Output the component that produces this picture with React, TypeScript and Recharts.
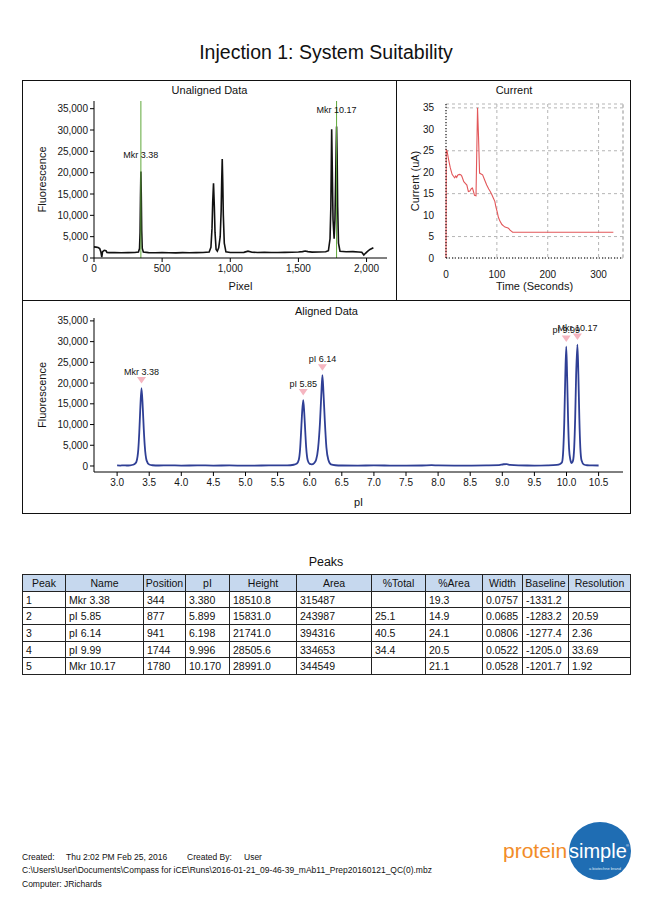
import React from 'react';
import {
  LineChart,
  ComposedChart,
  Line,
  XAxis,
  YAxis,
  CartesianGrid,
  ReferenceLine,
  ReferenceDot,
} from 'recharts';

const FONT = '"Liberation Sans", Arial, Helvetica, sans-serif';

// ---- Unaligned Data (pixel vs fluorescence) ----
const unalignedTrace: [number, number][] = [
  [0, 2600], [15, 2550], [30, 2450], [42, 2200], [50, 1500], [57, 200], [63, 1500],
  [75, 1800], [88, 1700], [95, 1300], [110, 1250], [150, 1280], [200, 1230], [250, 1260],
  [300, 1290], [326, 1400], [334, 2200], [338, 6000], [341, 14000], [344, 20300],
  [347, 14500], [350, 6500], [354, 2300], [362, 1400], [400, 1250], [450, 1220],
  [500, 1260], [550, 1240], [600, 1210], [650, 1250], [700, 1230], [750, 1260],
  [800, 1280], [845, 1400], [858, 2500], [866, 7000], [871, 13000], [877, 17500],
  [883, 12000], [888, 6000], [896, 2000], [905, 1600], [915, 2400], [926, 5000],
  [933, 11000], [937, 18000], [941, 23200], [945, 17500], [949, 10000], [956, 3500],
  [968, 1450], [1000, 1280], [1050, 1300], [1100, 1320], [1130, 1600], [1160, 1350],
  [1200, 1300], [1250, 1320], [1300, 1280], [1350, 1300], [1400, 1330], [1450, 1350],
  [1500, 1400], [1530, 1500], [1550, 1650], [1570, 1500], [1600, 1380], [1650, 1400],
  [1700, 1450], [1720, 1700], [1732, 4500], [1738, 12000], [1741, 21000], [1744, 30200],
  [1748, 22000], [1754, 9000], [1762, 4500], [1768, 9000], [1773, 18000], [1777, 26000],
  [1780, 30800], [1784, 24000], [1788, 12000], [1794, 3500], [1805, 1600], [1850, 1450],
  [1900, 1500], [1940, 1400], [1965, 1350], [1980, 700], [1992, 1100], [2005, 1500],
  [2025, 2000], [2050, 2400],
];
const markerPixels = [344, 1780];
const markerPeakHeights = [20300, 30800];
const markerNames = ['Mkr 3.38', 'Mkr 10.17'];
const fluorTicks = [0, 5000, 10000, 15000, 20000, 25000, 30000, 35000];
const pixelTicks = [0, 500, 1000, 1500, 2000];

// ---- Current (time in s vs uA) ----
const currentTrace: [number, number][] = [
  [0, 0], [0.5, 25.2], [2, 25], [5, 23], [8.5, 21], [12, 19.5], [15, 19], [17, 18.7],
  [19, 19.1], [21, 18.8], [23, 19.3], [26, 19.5], [29, 19.4], [31, 19.1], [35, 17.8],
  [38, 17.4], [41, 17], [44, 15.5], [47, 15.6], [50, 16.2], [52, 16.3], [54, 15.5],
  [56, 14.6], [59, 14.5], [62, 35], [64, 28], [66, 19.8], [69, 19.6], [72, 19.4],
  [76, 18.2], [80, 17], [84, 16.1], [87, 15.5], [90, 14.8], [93, 14], [96, 13.2],
  [98, 12], [101, 10.6], [103, 9.5], [106, 8.6], [110, 7.8], [113, 7.5], [116, 7.2],
  [119, 7.1], [122, 7], [124, 6.8], [126, 6.5], [129, 6.2], [131, 6], [180, 6],
  [250, 6], [329, 6],
];
const currentTicks = [0, 5, 10, 15, 20, 25, 30, 35];
const timeTicks = [0, 100, 200, 300];

// ---- Aligned Data (pI vs fluorescence) ----
const alignedTrace: [number, number][] = [
  [3.0, 130], [3.05, 110], [3.1, 150], [3.15, 120], [3.2, 160], [3.25, 300], [3.28, 600],
  [3.3, 1000], [3.33, 4000], [3.345, 8000], [3.36, 13500], [3.38, 18800], [3.4, 14000],
  [3.415, 9000], [3.43, 5000], [3.46, 1300], [3.5, 350], [3.55, 180], [3.65, 120],
  [3.8, 150], [4.0, 100], [4.25, 140], [4.5, 110], [4.75, 130], [5.0, 90], [5.25, 120],
  [5.5, 140], [5.65, 160], [5.75, 300], [5.8, 600], [5.83, 1500], [5.85, 4000],
  [5.865, 8000], [5.88, 12500], [5.899, 15900], [5.915, 12800], [5.93, 8500],
  [5.945, 4500], [5.97, 1300], [6.0, 500], [6.03, 400], [6.07, 700], [6.1, 1500],
  [6.13, 4200], [6.16, 10500], [6.18, 17000], [6.198, 21900], [6.215, 17500],
  [6.235, 11000], [6.26, 4500], [6.29, 1500], [6.33, 400], [6.4, 180], [6.5, 120],
  [6.75, 100], [7.0, 130], [7.25, 110], [7.5, 90], [7.75, 120], [7.9, 200], [8.0, 130],
  [8.25, 100], [8.5, 110], [8.75, 140], [8.95, 200], [9.02, 420], [9.07, 450],
  [9.12, 250], [9.25, 130], [9.5, 110], [9.7, 150], [9.85, 250], [9.9, 500], [9.93, 900],
  [9.95, 4000], [9.965, 10500], [9.98, 21000], [9.996, 28800], [10.01, 21500],
  [10.025, 11000], [10.04, 4200], [10.06, 1500], [10.08, 700], [10.1, 1200],
  [10.12, 4500], [10.135, 11500], [10.15, 22000], [10.17, 29300], [10.185, 22000],
  [10.2, 11500], [10.215, 4500], [10.235, 1300], [10.27, 350], [10.32, 180],
  [10.4, 130], [10.5, 120],
];
const peakNames = ['Mkr 3.38', 'pI 5.85', 'pI 6.14', 'pI 9.99', 'Mkr 10.17'];
const peakPI = [3.38, 5.899, 6.198, 9.996, 10.17];
const peakTops = [18800, 15900, 21900, 28800, 29300];
const piTicks = [3.0, 3.5, 4.0, 4.5, 5.0, 5.5, 6.0, 6.5, 7.0, 7.5, 8.0, 8.5, 9.0, 9.5, 10.0, 10.5];

// ---- Peaks table ----
const tableHeaders = ['Peak', 'Name', 'Position', 'pI', 'Height', 'Area', '%Total', '%Area', 'Width', 'Baseline', 'Resolution'];
const colPeak = ['1', '2', '3', '4', '5'];
const colName = ['Mkr 3.38', 'pI 5.85', 'pI 6.14', 'pI 9.99', 'Mkr 10.17'];
const colPosition = ['344', '877', '941', '1744', '1780'];
const colPI = ['3.380', '5.899', '6.198', '9.996', '10.170'];
const colHeight = ['18510.8', '15831.0', '21741.0', '28505.6', '28991.0'];
const colArea = ['315487', '243987', '394316', '334653', '344549'];
const colTotal = ['', '25.1', '40.5', '34.4', ''];
const colPctArea = ['19.3', '14.9', '24.1', '20.5', '21.1'];
const colWidth = ['0.0757', '0.0685', '0.0806', '0.0522', '0.0528'];
const colBaseline = ['-1331.2', '-1283.2', '-1277.4', '-1205.0', '-1201.7'];
const colResolution = ['', '20.59', '2.36', '33.69', '1.92'];
const colWidthsPx = [43, 78, 42, 44, 67, 75, 54, 57, 40, 46, 62];

const toXY = (pts: [number, number][]) => pts.map(([x, y]) => ({ x, y }));
const comma = (v: number) => v.toLocaleString('en-US');

const tickStyle = { fontSize: 10, fill: '#151515', fontFamily: FONT };
const axisLabel = { fontSize: 11, fill: '#151515', fontFamily: FONT };

// text placed by its baseline
const Txt = ({ x, y, size, children, align = 'left', w = 0, style = {} }: any) => (
  <div
    style={{
      position: 'absolute',
      left: align === 'center' ? x - w / 2 : x,
      width: align === 'center' ? w : undefined,
      top: y - size * 0.905,
      fontSize: size,
      lineHeight: 'normal',
      textAlign: align,
      whiteSpace: 'pre',
      ...style,
    }}
  >
    {children}
  </div>
);

const Triangle = (props: any) => {
  const { cx, cy } = props;
  return <path d={`M${cx - 4.5},${cy - 11} L${cx + 4.5},${cy - 11} L${cx},${cy - 4.5} Z`} fill="#f5b5c0" />;
};

const UnalignedChart = () => (
  <LineChart width={375} height={220} margin={{ top: 21, right: 10, bottom: 0, left: 0 }}>
    <XAxis
      type="number"
      dataKey="x"
      domain={[0, 2150]}
      ticks={pixelTicks}
      tickFormatter={comma}
      tick={tickStyle}
      tickSize={4}
      tickMargin={3}
      stroke="#000"
      height={42}
      label={{ value: 'Pixel', position: 'insideBottom', offset: 10, style: axisLabel }}
    />
    <YAxis
      type="number"
      dataKey="y"
      domain={[0, 36800]}
      ticks={fluorTicks}
      tickFormatter={comma}
      tick={tickStyle}
      tickSize={4}
      tickMargin={2}
      stroke="#000"
      width={72}
      label={{ value: 'Fluorescence', angle: -90, position: 'insideLeft', offset: 20, style: { ...axisLabel, textAnchor: 'middle' } }}
    />
    <Line data={toXY(unalignedTrace)} dataKey="y" type="linear" stroke="#111" strokeWidth={1.6} dot={false} isAnimationActive={false} />
    {markerPixels.map((p, i) => (
      <ReferenceLine key={'l' + i} x={p} stroke="#5fa83a" strokeWidth={1} />
    ))}
    {markerPixels.map((p, i) => (
      <ReferenceDot
        key={'d' + i}
        x={p}
        y={markerPeakHeights[i]}
        r={0}
        fill="none"
        stroke="none"
        label={{ value: markerNames[i], position: 'top', offset: 13.5, style: { fontSize: 9, fill: '#111', fontFamily: FONT } }}
      />
    ))}
  </LineChart>
);

const CurrentChart = () => (
  <LineChart width={234} height={220} margin={{ top: 24, right: 8, bottom: 0, left: 0 }}>
    <CartesianGrid stroke="#b5b5b5" strokeDasharray="3 3" />
    <XAxis
      type="number"
      dataKey="x"
      domain={[0, 348]}
      ticks={timeTicks}
      tick={tickStyle}
      tickLine={false}
      tickMargin={7}
      axisLine={{ stroke: '#000', strokeDasharray: '1 2' }}
      height={42}
      label={{ value: 'Time (Seconds)', position: 'insideBottom', offset: 10, style: axisLabel }}
    />
    <YAxis
      type="number"
      dataKey="y"
      domain={[0, 35.9]}
      ticks={currentTicks}
      tick={tickStyle}
      tickLine={false}
      tickMargin={6}
      axisLine={{ stroke: '#000', strokeDasharray: '1 2' }}
      width={49}
      label={{ value: 'Current (uA)', angle: -90, position: 'insideLeft', offset: 18, style: { ...axisLabel, textAnchor: 'middle' } }}
    />
    <ReferenceLine x={348} stroke="#b5b5b5" strokeDasharray="3 3" />
    <Line data={toXY(currentTrace)} dataKey="y" type="linear" stroke="#e2575a" strokeWidth={1.1} dot={false} isAnimationActive={false} />
  </LineChart>
);

const AlignedChart = () => (
  <ComposedChart width={609} height={214} margin={{ top: 18, right: 8, bottom: 0, left: 0 }}>
    <XAxis
      type="number"
      dataKey="x"
      domain={[2.64, 10.88]}
      ticks={piTicks}
      tickFormatter={(v: number) => v.toFixed(1)}
      tick={tickStyle}
      tickSize={4}
      tickMargin={3}
      stroke="#000"
      height={42}
      label={{ value: 'pI', position: 'insideBottom', offset: 8, style: axisLabel }}
    />
    <YAxis
      type="number"
      dataKey="y"
      domain={[-1450, 35700]}
      ticks={fluorTicks}
      tickFormatter={comma}
      tick={tickStyle}
      tickSize={4}
      tickMargin={2}
      stroke="#000"
      width={72}
      label={{ value: 'Fluorescence', angle: -90, position: 'insideLeft', offset: 20, style: { ...axisLabel, textAnchor: 'middle' } }}
    />
    <Line data={toXY(alignedTrace)} dataKey="y" type="monotone" stroke="#2f3f95" strokeWidth={1.8} dot={false} isAnimationActive={false} />
    {peakPI.map((p, i) => (
      <ReferenceDot
        key={i}
        x={p}
        y={peakTops[i]}
        r={0}
        shape={Triangle}
        label={{ value: peakNames[i], position: 'top', offset: 13.5, style: { fontSize: 9, fill: '#111', fontFamily: FONT } }}
      />
    ))}
  </ComposedChart>
);

const columns = [colPeak, colName, colPosition, colPI, colHeight, colArea, colTotal, colPctArea, colWidth, colBaseline, colResolution];

const PeaksTable = () => (
  <table
    style={{
      position: 'absolute',
      left: 22,
      top: 574,
      width: 608,
      borderCollapse: 'collapse',
      tableLayout: 'fixed',
      fontSize: 10.5,
      fontFamily: FONT,
      color: '#111',
    }}
  >
    <colgroup>
      {colWidthsPx.map((w, i) => (
        <col key={i} style={{ width: w }} />
      ))}
    </colgroup>
    <thead>
      <tr style={{ height: 16.7 }}>
        {tableHeaders.map((h) => (
          <th key={h} style={{ border: '1px solid #222', background: '#c6d8ee', fontWeight: 'normal', textAlign: 'center', padding: '0 1px', whiteSpace: 'nowrap' }}>
            {h}
          </th>
        ))}
      </tr>
    </thead>
    <tbody>
      {colPeak.map((_, r) => (
        <tr key={r} style={{ height: 16.7 }}>
          {columns.map((c, k) => (
            <td key={k} style={{ border: '1px solid #222', padding: '0 3px', whiteSpace: 'nowrap' }}>
              {c[r]}
            </td>
          ))}
        </tr>
      ))}
    </tbody>
  </table>
);

const Logo = () => (
  <svg width={140} height={70} style={{ position: 'absolute', left: 495, top: 820 }}>
    <ellipse cx={105} cy={31} rx={31} ry={29} fill="#1f6db3" />
    <text x={8} y={38} fontSize={21} fill="#f28c28" fontFamily={FONT}>protein</text>
    <text x={74} y={38} fontSize={20} fill="#fff" fontFamily={FONT}>simple</text>
    <text x={131} y={27} fontSize={4} fill="#fff" fontFamily={FONT}>®</text>
    <text x={110} y={50} fontSize={4} fill="#dfe9f5" fontFamily={FONT} textAnchor="middle">a biotechne brand</text>
  </svg>
);

export default function App() {
  return (
    <div style={{ position: 'absolute', left: 0, top: 0, width: 652, height: 922, background: '#fff', fontFamily: FONT, color: '#111' }}>
      <Txt x={326} w={652} align="center" y={59} size={19.5}>Injection 1: System Suitability</Txt>

      {/* frame */}
      <div style={{ position: 'absolute', left: 22, top: 80, width: 609, height: 434, border: '1px solid #111', boxSizing: 'border-box' }} />
      <div style={{ position: 'absolute', left: 396, top: 80, width: 1, height: 220, background: '#111' }} />
      <div style={{ position: 'absolute', left: 22, top: 300, width: 609, height: 1, background: '#111' }} />

      <Txt x={209.5} w={200} align="center" y={94} size={11}>Unaligned Data</Txt>
      <Txt x={514} w={200} align="center" y={94} size={11}>Current</Txt>
      <Txt x={326.5} w={200} align="center" y={315} size={11}>Aligned Data</Txt>

      <div style={{ position: 'absolute', left: 22, top: 80 }}>
        <UnalignedChart />
      </div>
      <div style={{ position: 'absolute', left: 397, top: 80 }}>
        <CurrentChart />
      </div>
      <div style={{ position: 'absolute', left: 22, top: 300 }}>
        <AlignedChart />
      </div>

      <Txt x={326} w={200} align="center" y={566.5} size={12.5}>Peaks</Txt>
      <PeaksTable />

      <Txt x={22} y={860} size={8.5}>Created:</Txt>
      <Txt x={66} y={860} size={8.5}>Thu 2:02 PM Feb 25, 2016</Txt>
      <Txt x={187} y={860} size={8.5}>Created By:</Txt>
      <Txt x={244} y={860} size={8.5}>User</Txt>
      <Txt x={22} y={873} size={8.5}>{'C:\\Users\\User\\Documents\\Compass for iCE\\Runs\\2016-01-21_09-46-39_mAb11_Prep20160121_QC(0).mbz'}</Txt>
      <Txt x={22} y={887} size={8.5}>Computer: JRichards</Txt>

      <Logo />
    </div>
  );
}
